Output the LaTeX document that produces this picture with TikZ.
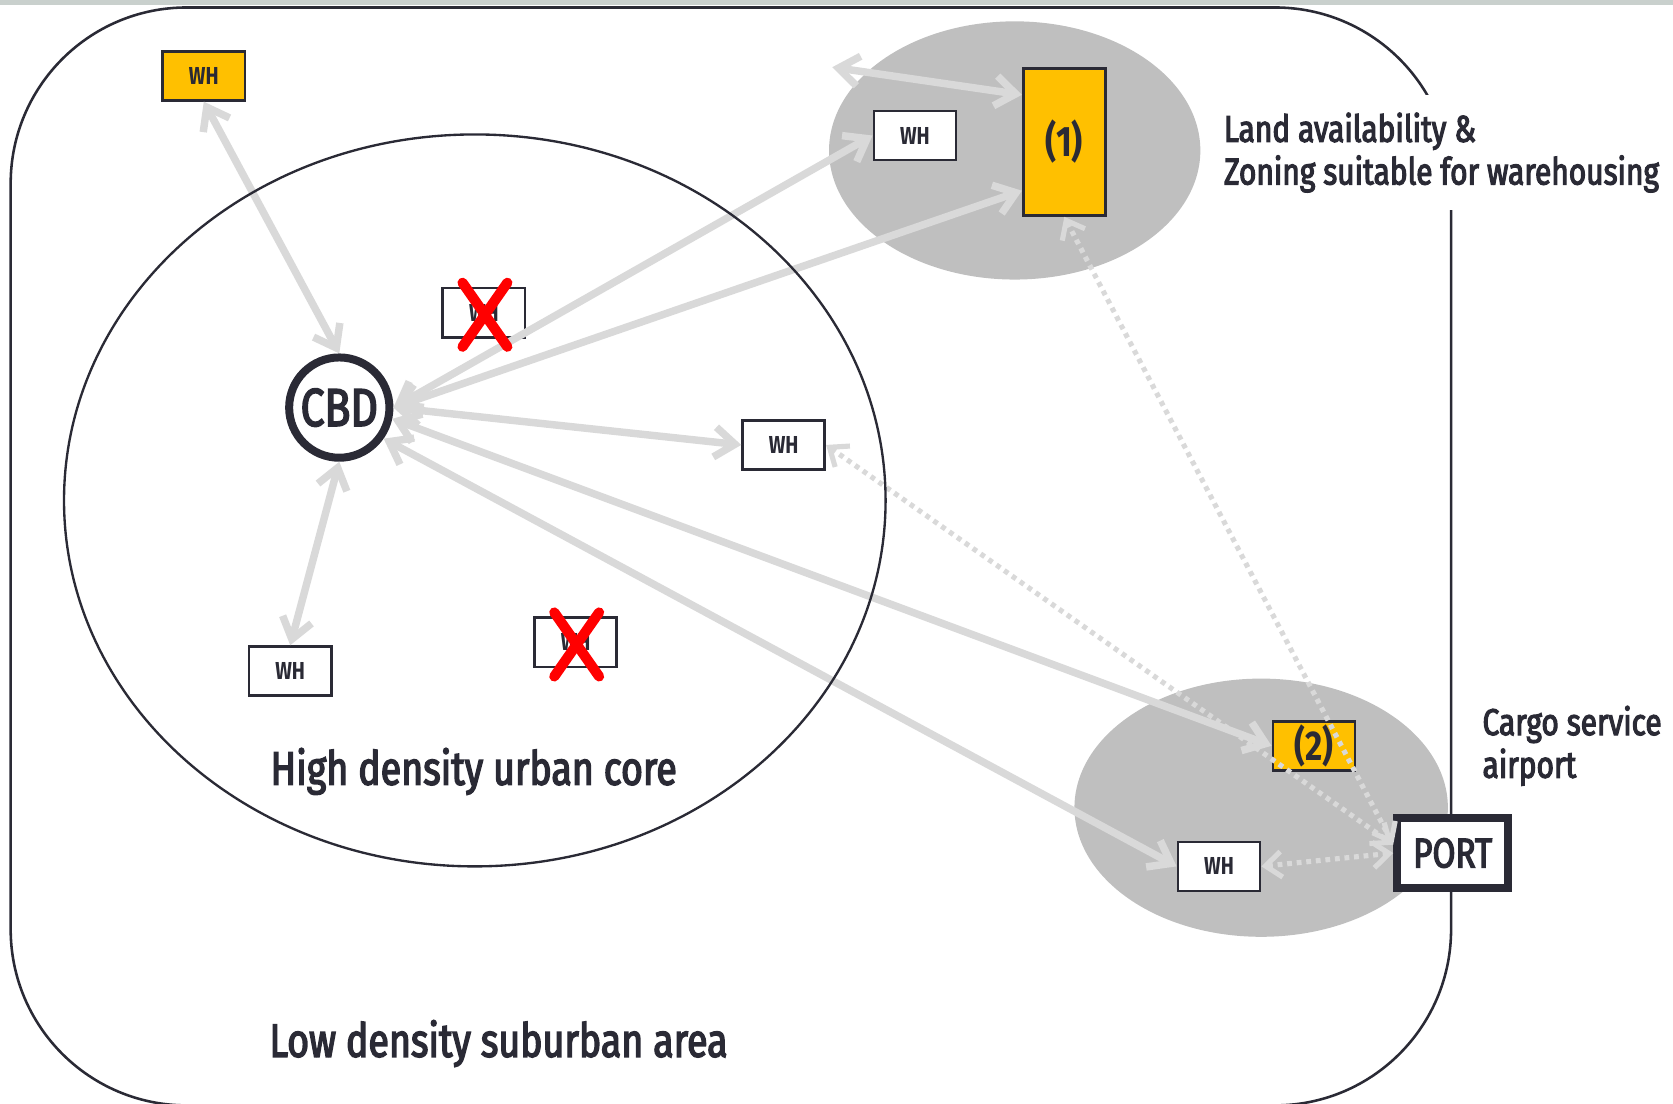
\documentclass[tikz,border=0pt]{standalone}
\usepackage{fontspec}
\setmainfont[FakeStretch=0.8]{Fira Sans}
\newfontfamily\lblfont[FakeStretch=0.8,FakeBold=3]{Fira Sans}
\usetikzlibrary{arrows.meta}
\definecolor{ink}{HTML}{2A2A35}
\definecolor{gold}{HTML}{FFC000}
\definecolor{zone}{HTML}{BFBFBF}
\definecolor{argray}{HTML}{D9D9D9}
\definecolor{dotgray}{HTML}{D9D9D9}
\definecolor{topbar}{HTML}{C9D0CD}
\begin{document}
\begin{tikzpicture}[x=1pt,y=-1pt,
  wh/.style={draw=ink,line width=2.5pt,fill=white,minimum width=77pt,minimum height=46pt,inner sep=0pt,text=ink,font=\fontsize{23}{23}\selectfont\bfseries},
  whgold/.style={wh,fill=gold},
  arr/.style={draw=argray,line width=7pt,line cap=round,>={Straight Barb[length=19pt,width=28pt]},<->},
  dotarr/.style={draw=dotgray,line width=4.8pt,dash pattern=on 4.5pt off 4.5pt,>={Straight Barb[length=15pt,width=24pt]},<->},
  xmark/.style={draw=red,line width=9.5pt,line cap=round},
  biglabel/.style={text=ink,font=\lblfont\fontsize{44}{48}\selectfont},
  sidelabel/.style={text=ink,align=left,font=\lblfont\fontsize{35}{40}\selectfont}]
\useasboundingbox (0,0) rectangle (1568,1034);
% top bar
\fill[topbar] (0,0) rectangle (1568,4.5);
% outer suburban area
\draw[ink,line width=2.4pt,rounded corners=165pt] (10,7) rectangle (1360,1036);
% zones
\fill[zone] (951,141) ellipse [x radius=174, y radius=121];
\fill[zone] (1182,757) ellipse [x radius=175, y radius=121];
% nodes
\node[whgold] (wh1) at (191,71) {WH};
\node[wh] (whz) at (857.5,127) {WH};
\node[whgold,minimum height=138pt,font=\fontsize{40}{40}\selectfont\bfseries] (b1) at (997.5,133) {(1)};
\node[wh] (wx1) at (453.5,293) {WH};
\node[draw=ink,line width=7.5pt,circle,fill=white,minimum size=94pt,inner sep=0pt,text=ink,font=\lblfont\fontsize{50}{50}\selectfont] (cbd) at (318,382) {CBD};
\node[wh] (whm) at (734.5,417) {WH};
\node[wh] (whb) at (272,629) {WH};
\node[wh] (wx2) at (539.5,602) {WH};
\node[whgold,font=\fontsize{39}{39}\selectfont\bfseries] (b2) at (1231.5,699) {(2)};
\node[wh] (whe) at (1142.5,812) {WH};
\node[draw=ink,line width=7.5pt,fill=white,minimum width=104pt,minimum height=66pt,inner sep=0pt,text=ink,font=\lblfont\fontsize{39}{39}\selectfont] (port) at (1361.5,799.5) {PORT};
\coordinate (free) at (780,63);
% solid connectors
\draw[arr] (wh1.south) -- (cbd.north);
\draw[arr] (cbd.south) -- (whb.north);
\draw[arr] (cbd.east) -- (whz.west);
\draw[arr] (cbd.east) -- (b1.229);
\draw[arr] (free) -- (b1.132);
\draw[arr] (cbd.east) -- (whm.west);
\draw[arr] (cbd.-12) -- (b2.west);
\draw[arr] (cbd.-35) -- (whe.west);
% dotted connectors
\draw[dotarr] (whm.east) -- (port.172);
\draw[dotarr] (b1.south) -- (port.172);
\draw[dotarr] (whe.east) -- (port.west);
% urban core
\draw[ink,line width=2.2pt] (445,469) ellipse [x radius=385, y radius=343];
% crosses
\draw[xmark] ([shift={(-20,-28)}]wx1.center) -- ([shift={(22,32)}]wx1.center);
\draw[xmark] ([shift={(22,-28)}]wx1.center) -- ([shift={(-20,32)}]wx1.center);
\draw[xmark] ([shift={(-20,-28)}]wx2.center) -- ([shift={(22,32)}]wx2.center);
\draw[xmark] ([shift={(22,-28)}]wx2.center) -- ([shift={(-20,32)}]wx2.center);
% labels
\node[sidelabel,anchor=west,fill=white,minimum height=107pt,inner xsep=5pt] (land) at (1142,143) {Land availability \&\\Zoning suitable for warehousing};
\node[sidelabel,anchor=west] (cargo) at (1386,699) {Cargo service\\airport};
\node[biglabel] (core) at (444,723) {High density urban core};
\node[biglabel,anchor=west] (sub) at (249,978) {Low density suburban area};
\end{tikzpicture}
\end{document}
